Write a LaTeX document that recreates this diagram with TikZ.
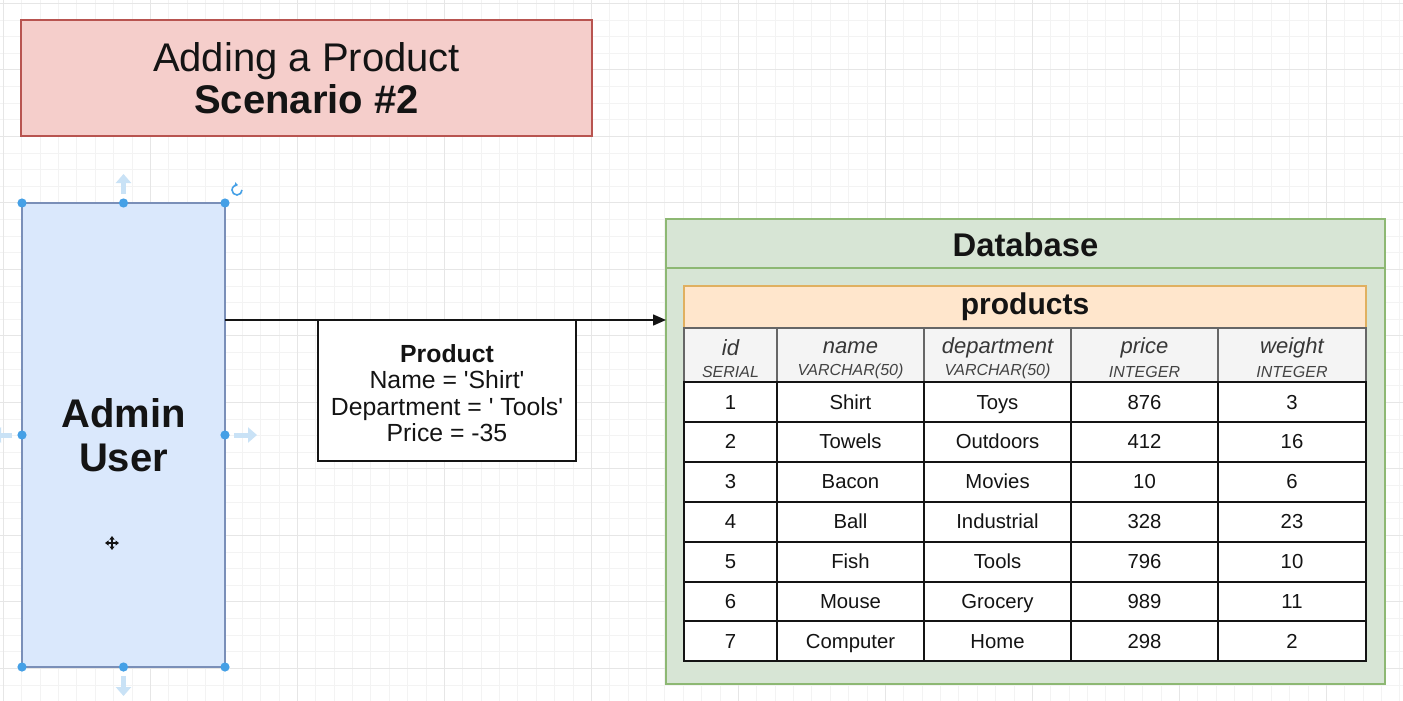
\documentclass[tikz,border=0pt]{standalone}
\usepackage{fontspec}
\setmainfont{Liberation Sans}
\usetikzlibrary{arrows.meta,positioning}

\definecolor{gridminor}{HTML}{F3F3F3}
\definecolor{gridmajor}{HTML}{E6E6E6}
\definecolor{titlefill}{HTML}{F5CECB}
\definecolor{titleline}{HTML}{B85450}
\definecolor{userfill}{HTML}{DAE8FC}
\definecolor{userline}{HTML}{7A8FB8}
\definecolor{dbfill}{HTML}{D7E5D5}
\definecolor{dbline}{HTML}{8DB873}
\definecolor{tblfill}{HTML}{FFE6CC}
\definecolor{tblline}{HTML}{E0B060}
\definecolor{headfill}{HTML}{F4F4F4}
\definecolor{headline}{HTML}{666666}
\definecolor{handleblue}{HTML}{45A0E6}
\definecolor{hintblue}{HTML}{C9E2F6}
\definecolor{ink}{HTML}{141414}

\newcommand{\q}{\textquotesingle}

\tikzset{
  box/.style={draw, anchor=north west, inner sep=0pt, outer sep=0pt, text=ink},
  titlebox/.style={box, fill=titlefill, draw=titleline, line width=1.3pt,
    minimum width=571, minimum height=116, align=center,
    font=\fontsize{40}{42}\selectfont},
  userbox/.style={box, fill=userfill, draw=userline, line width=1.3pt,
    minimum width=203, minimum height=464, align=center,
    font=\fontsize{40}{44}\selectfont\bfseries},
  prodbox/.style={box, fill=white, draw=ink, line width=1.5pt,
    minimum width=258, minimum height=141},
  prodtext/.style={text=ink, align=center, font=\fontsize{24.8}{26.3}\selectfont},
  dbbox/.style={box, fill=dbfill, draw=dbline, line width=1.5pt,
    minimum width=719, minimum height=465},
  tblhead/.style={box, fill=tblfill, draw=tblline, line width=1.3pt,
    minimum width=682, minimum height=42, font=\fontsize{30}{31}\selectfont\bfseries},
  colhead/.style={box, fill=headfill, draw=headline, line width=1.3pt, minimum height=54},
  colname/.style={text=ink!85, font=\fontsize{22}{23}\selectfont\itshape},
  coltype/.style={text=ink!80, font=\fontsize{16}{17}\selectfont\itshape},
  cell/.style={box, fill=white, draw=ink, line width=2pt, minimum height=40,
    text height=16.5, text depth=2.5, font=\fontsize{20.3}{21}\selectfont},
  handle/.style={fill=handleblue},
  hint/.style={draw=hintblue, line width=5pt, -{Triangle[length=9pt,width=15pt]}},
  flow/.style={draw=ink, line width=1.5pt, -{Triangle[length=13pt,width=11pt]}},
}

\begin{document}
\begin{tikzpicture}[x=1pt,y=-1pt]
\useasboundingbox[fill=white] (0,0) rectangle (1403,701);

% background grid
\foreach \k in {0,...,76}
  \draw[gridminor, line width=0.8pt] ({3.3+18.375*\k},0) -- ++(0,701);
\foreach \k in {0,...,42}
  \draw[gridminor, line width=0.8pt] (0,{3.3+16.625*\k}) -- ++(1403,0);
\foreach \k in {0,...,9}
  \draw[gridmajor, line width=1pt] ({3.3+147*\k},0) -- ++(0,701);
\foreach \k in {0,...,10}
  \draw[gridmajor, line width=1pt] (0,{3.3+66.5*\k}) -- ++(1403,0);

% title
\node[titlebox] (title) at (21,20) {Adding a Product\\\textbf{Scenario \#2}};

% admin user with selection handles
\node[userbox] (admin) at (22,203) {Admin\\User};
\foreach \p in {north west,north,north east,west,east,south west,south,south east}
  \fill[handle] (admin.\p) circle (4.6);
\draw[hint] ([yshift=9pt]admin.north) -- ([yshift=29pt]admin.north);
\draw[hint] ([yshift=-9pt]admin.south) -- ([yshift=-29pt]admin.south);
\draw[hint] ([xshift=9pt]admin.east) -- ([xshift=32pt]admin.east);
\draw[hint] ([xshift=-10pt]admin.west) -- ([xshift=-30pt]admin.west);
\draw[handleblue, line width=1.6pt, -{Triangle[length=3pt,width=4.5pt]}]
  ([shift={(12pt,13pt)}]admin.north east) ++(0:5) arc (0:280:5);
\foreach \a in {0,90,180,270}
  \draw[ink, line width=1.4pt, -{Triangle[length=3.5pt,width=5pt]}] (112,543) -- ++(\a:7);

% product sent to the database
\node[prodbox] (prod) at (318,320) {};
\node[prodtext] (prodlbl) at ([yshift=-2.5pt]prod.center)
  {\textbf{Product}\\Name = \q Shirt\q\\Department = \q\ Tools\q\\Price = -35};
\node[dbbox] (db) at (666,219) {};
\draw[flow] (admin.east |- prod.north) -- (db.west |- prod.north);
\draw[dbline, line width=1.5pt] ([yshift=-49pt]db.north west) -- ([yshift=-49pt]db.north east);
\node[text=ink, font=\fontsize{32.8}{33}\selectfont\bfseries] (dbtitle) at (1025.5,245) {Database};

% products table
\node[tblhead] (tbl) at (684,286) {products};
\foreach \n/\t/\x/\w in {id/SERIAL/684/93, name/VARCHAR(50)/777/147,
    department/VARCHAR(50)/924/147, price/INTEGER/1071/147, weight/INTEGER/1218/148} {
  \node[colhead, minimum width=\w] (h-\n) at (\x,328) {};
  \node[colname] at ({\x+\w/2},347.5) {\n};
  \node[coltype] at ({\x+\w/2},371.5) {\t};
}
\foreach \id/\nm/\dep/\pr/\wt [count=\i] in {1/Shirt/Toys/876/3, 2/Towels/Outdoors/412/16,
    3/Bacon/Movies/10/6, 4/Ball/Industrial/328/23, 5/Fish/Tools/796/10,
    6/Mouse/Grocery/989/11, 7/Computer/Home/298/2} {
  \node[cell, minimum width=93] (c\i-1) at (684,{382+39.9*(\i-1)}) {\id};
  \node[cell, minimum width=147, right=0pt of c\i-1] (c\i-2) {\nm};
  \node[cell, minimum width=147, right=0pt of c\i-2] (c\i-3) {\dep};
  \node[cell, minimum width=147, right=0pt of c\i-3] (c\i-4) {\pr};
  \node[cell, minimum width=148, right=0pt of c\i-4] (c\i-5) {\wt};
}
\end{tikzpicture}
\end{document}
